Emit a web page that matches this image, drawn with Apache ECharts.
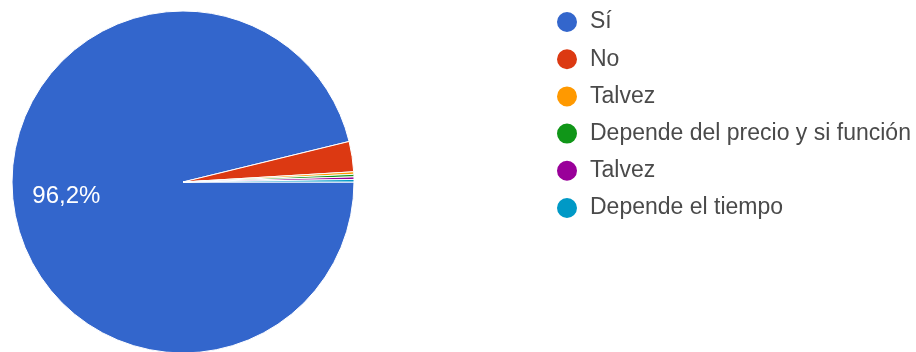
<!DOCTYPE html>
<html>
<head>
<meta charset="utf-8">
<script src="https://cdn.jsdelivr.net/npm/echarts@6/dist/echarts.min.js"></script>
<style>
  html, body { margin: 0; padding: 0; background: #fff; }
  #chart { width: 916px; height: 352px; }
</style>
</head>
<body>
<div id="chart"></div>
<script>
// Survey answers and response counts
const categories = ['Sí', 'No', 'Talvez', 'Depende del precio y si función', 'Talvez ', 'Depende el tiempo'];
const counts = [404, 12, 1, 1, 1, 1];
const palette = ['#3366cc', '#dc3912', '#ff9900', '#109618', '#990099', '#0099c6'];

const sliceData = categories.map((name, i) => ({ name: name, value: counts[i] }));

const chart = echarts.init(document.getElementById('chart'), null, { renderer: 'canvas' });

chart.setOption({
  animation: false,
  color: palette,
  legend: {
    orient: 'vertical',
    left: 550,
    top: 5,
    icon: 'circle',
    itemWidth: 22,
    itemHeight: 22,
    itemGap: 13.2,
    selectedMode: false,
    data: categories,
    formatter: name => name.trim(),
    textStyle: {
      fontFamily: 'Liberation Sans, Arial, sans-serif',
      fontSize: 23,
      lineHeight: 22,
      color: '#4a4a4a',
      padding: [0, 0, 0, 7]
    }
  },
  series: [
    {
      type: 'pie',
      center: [183, 182],
      radius: [0, 171],
      startAngle: 0,
      clockwise: true,
      minAngle: 0,
      avoidLabelOverlap: false,
      itemStyle: { borderColor: '#fff', borderWidth: 1 },
      label: { show: false },
      labelLine: { show: false },
      emphasis: { disabled: true },
      data: sliceData
    },
    {
      // label ring: places the percentage further out along the slice
      type: 'pie',
      center: [183, 182],
      radius: [58, 171],
      startAngle: 0,
      clockwise: true,
      silent: true,
      percentPrecision: 1,
      avoidLabelOverlap: false,
      itemStyle: { color: 'rgba(0,0,0,0)', borderWidth: 0 },
      labelLine: { show: false },
      emphasis: { disabled: true },
      label: {
        show: true,
        position: 'inner',
        fontFamily: 'Liberation Sans, Arial, sans-serif',
        fontSize: 24,
        color: '#fff',
        formatter: p => (p.percent >= 5 ? String(p.percent).replace('.', ',') + '%' : '')
      },
      data: sliceData
    }
  ]
});
</script>
</body>
</html>
